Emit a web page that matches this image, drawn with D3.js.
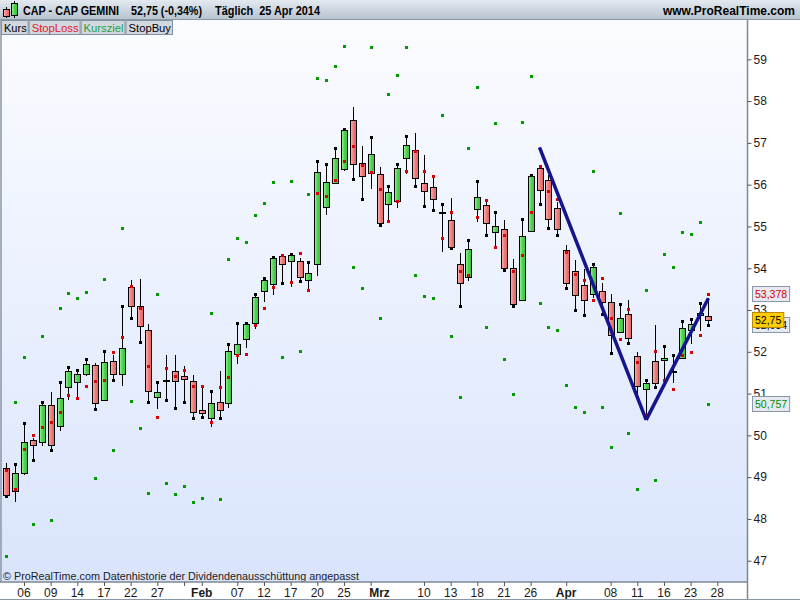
<!DOCTYPE html>
<html>
<head>
<meta charset="utf-8">
<script src="https://cdn.jsdelivr.net/npm/d3@7"></script>
<style>
  body { margin: 0; background: #fff; }
  svg { display: block; font-family: "Liberation Sans", Arial, sans-serif; }
</style>
</head>
<body>
<div id="chart"></div>
<script>
const width = 800,
      height = 600;

// trading days Jan 2 - Apr 25 2014
const dates = [
  "02.01","03.01","06.01","07.01","08.01","09.01","10.01","13.01","14.01","15.01","16.01","17.01","20.01","21.01","22.01","23.01","24.01","27.01","28.01","29.01","30.01","31.01",
  "03.02","04.02","05.02","06.02","07.02","10.02","11.02","12.02","13.02","14.02","17.02","18.02","19.02","20.02","21.02","24.02","25.02","26.02","27.02","28.02",
  "03.03","04.03","05.03","06.03","07.03","10.03","11.03","12.03","13.03","14.03","17.03","18.03","19.03","20.03","21.03","24.03","25.03","26.03","27.03","28.03","31.03",
  "01.04","02.04","03.04","04.04","07.04","08.04","09.04","10.04","11.04","14.04","15.04","16.04","17.04","22.04","23.04","24.04","25.04"
];

const open = [49.23,48.65,49.08,49.88,49.85,50.73,50.23,51.14,51.26,51.47,51.68,50.85,51.77,51.45,53.54,53.09,52.51,50.92,51.32,51.53,
  51.41,51.29,50.60,50.42,50.81,50.78,51.95,52.31,52.68,53.46,53.61,54.29,54.17,54.17,53.72,54.11,55.47,56.06,56.36,57.54,
  56.51,56.27,56.25,55.53,55.62,56.62,56.82,56.03,55.94,55.33,55.15,54.09,53.78,55.42,55.51,54.85,54.93,54.00,53.22,54.88,
  56.41,56.10,55.43,54.43,53.93,53.59,53.38,53.45,53.18,52.47,52.90,51.89,51.10,51.78,51.80,51.52,51.84,52.51,52.87,52.85];
const high = [49.34,49.31,50.29,49.94,50.81,51.04,51.27,51.63,51.56,51.82,51.72,52.01,51.92,53.09,53.72,53.74,52.66,51.27,51.92,51.92,
  51.66,51.44,51.18,51.05,51.54,52.18,52.70,52.70,53.38,53.77,54.27,54.31,54.34,54.24,54.14,56.56,56.49,56.87,57.33,57.86,
  56.92,57.13,56.42,55.96,56.49,57.16,57.23,56.71,56.18,55.53,55.67,54.36,54.67,56.08,55.61,55.34,55.15,54.22,55.19,56.23,
  56.47,56.23,55.58,54.55,54.20,53.98,54.09,53.65,53.38,53.14,53.23,51.99,51.32,52.64,52.15,51.92,52.73,52.78,53.16,53.29];
const low = [48.56,48.41,49.05,49.40,49.75,49.64,50.11,50.85,50.92,51.43,50.62,50.83,51.32,51.19,52.80,52.23,50.81,50.64,50.84,50.65,
  50.79,50.41,50.43,50.21,50.41,50.66,51.71,52.10,52.55,53.20,53.37,53.64,53.56,53.69,53.50,53.82,55.28,56.04,56.33,56.13,
  55.65,55.90,55.03,55.13,55.45,56.25,55.96,55.48,55.39,54.39,54.49,53.09,53.70,55.11,54.79,54.51,53.96,53.10,53.21,54.88,
  55.53,54.96,54.79,53.52,52.99,52.87,53.29,52.90,51.96,52.45,52.20,50.92,50.44,51.15,51.32,51.25,51.82,52.18,52.50,52.63];
const close = [48.58,49.09,49.83,49.75,50.73,49.78,50.89,51.53,51.46,51.70,50.76,51.75,51.47,52.08,53.08,52.60,51.04,51.03,51.31,51.29,
  51.34,50.55,50.54,50.77,50.61,52.03,52.18,52.66,53.30,53.73,54.24,54.09,54.31,53.78,53.88,56.30,56.06,56.65,57.30,56.49,
  56.20,56.73,55.07,55.82,56.41,56.94,56.14,55.83,55.66,55.32,54.51,53.63,54.45,55.70,55.09,55.00,53.99,53.14,54.76,56.20,
  55.88,55.17,54.93,53.64,53.35,53.23,54.02,53.18,52.39,52.80,52.32,51.17,51.25,51.25,51.84,51.52,52.56,52.66,52.92,52.75];

// indicator series
const stopLoss = [49.16,48.71,49.67,50.00,50.19,50.31,50.55,50.96,50.89,51.17,51.29,51.32,51.99,52.35,53.57,53.04,51.65,50.45,51.60,51.41,
  51.56,51.17,51.17,50.31,51.15,51.39,51.92,51.94,52.63,53.04,53.54,54.31,53.66,54.36,53.49,55.79,55.72,56.10,56.56,56.92,
  56.46,56.30,55.89,55.12,55.62,56.33,56.80,56.32,56.20,54.72,55.34,53.93,53.83,55.22,55.63,54.50,54.79,53.93,54.31,55.34,
  56.44,55.86,55.65,54.40,53.85,53.73,53.23,53.76,52.82,52.30,53.02,51.75,50.49,52.02,51.32,51.10,51.92,51.99,52.39,53.378];
const kursziel = [47.11,50.80,51.87,47.88,52.38,47.97,53.05,53.41,53.29,53.43,48.98,53.74,49.65,54.96,50.82,50.18,48.62,53.38,48.86,48.60,
  48.79,48.40,48.50,52.94,48.48,54.21,54.72,54.62,55.27,55.55,56.06,51.87,56.08,52.01,55.77,58.55,58.50,58.83,59.31,54.02,
  53.52,59.29,52.80,58.16,58.62,59.29,53.83,53.33,53.28,57.66,52.37,50.91,56.87,58.33,52.59,57.47,51.82,50.98,57.49,58.59,
  53.16,52.59,52.51,51.20,50.67,50.57,56.32,50.69,49.71,55.31,50.05,48.71,53.47,48.92,54.33,54.02,54.86,54.81,55.10,50.757];
const stopBuy = [48.56,49.31,50.29,49.40,50.81,49.64,51.27,51.63,51.56,51.82,50.62,52.01,51.32,53.09,52.80,52.23,50.81,51.27,50.84,50.65,
  50.79,50.41,50.43,51.05,50.41,52.18,52.70,52.70,53.38,53.77,54.27,53.64,54.34,53.69,54.14,56.56,56.49,56.87,57.33,56.13,
  55.65,57.13,55.03,55.96,56.49,57.16,55.96,55.48,55.39,55.53,54.49,53.09,54.67,56.08,54.79,55.34,53.96,53.10,55.19,56.23,
  55.53,54.96,54.79,53.52,52.99,52.87,54.09,52.90,51.96,53.14,52.20,50.92,51.32,51.15,52.15,51.92,52.73,52.78,53.16,52.634];

// hand drawn trend arrows (bar index, price)
const trendIdx = [60, 72, 79];
const trendVal = [56.89, 50.37, 53.28];

// axes
const priceTicks = [47, 48, 49, 50, 51, 52, 53, 54, 55, 56, 57, 58, 59];
const tickIdx = [2,5,8,11,14,17,20,22,26,29,32,35,38,41,47,50,53,56,59,63,68,71,74,77,80];
const labelIdx = [2,5,8,11,14,17,22,26,29,32,35,38,42,47,50,53,56,59,63,68,71,74,77,80];
const labelText = ["06","09","14","17","22","27","Feb","07","12","17","20","25","Mrz","10","13","18","21","26","Apr","08","11","16","23","28"];
const monthNames = ["Feb", "Mrz", "Apr"];

const titleParts = ["CAP - CAP GEMINI", "52,75 (-0,34%)", "Täglich  25 Apr 2014"];
const siteName = "www.ProRealTime.com";
const tabNames = ["Kurs", "StopLoss", "Kursziel", "StopBuy"];
const footNote = "© ProRealTime.com Datenhistorie der Dividendenausschüttung angepasst";

const plotRight = 747.5,
      plotTop = 20,
      plotBottom = 582;

const x = d3.scaleLinear().domain([-0.7, 83.4]).range([0, plotRight]);
const y = d3.scaleLinear().domain([46.49, 59.965]).range([plotBottom, 19]);
const px = i => Math.round(x(i)) + 0.5;
const comma = (v, n) => d3.format("." + n + "f")(v).replace(".", ",");

const svg = d3.select("#chart")
  .append("svg")
    .attr("width", width)
    .attr("height", height);

const defs = svg.append("defs");

function grad(id, x2, y2, stops) {
  const g = defs.append("linearGradient").attr("id", id)
    .attr("x1", 0).attr("y1", 0).attr("x2", x2).attr("y2", y2);
  stops.forEach((c, k) => g.append("stop")
    .attr("offset", k / (stops.length - 1)).attr("stop-color", c));
}
grad("bg", 0, 1, ["#fbfcff", "#d9e4fc"]);
grad("head", 0, 1, ["#e3e9ef", "#b6c2ce"]);
grad("up", 1, 0, ["#a4f4a4", "#4ed24e", "#3cc43c"]);
grad("down", 1, 0, ["#fbb8b8", "#ee7c7c", "#e06262"]);

defs.append("clipPath").attr("id", "plotclip")
  .append("rect").attr("x", 0).attr("y", plotTop)
  .attr("width", plotRight).attr("height", plotBottom - plotTop);

// plot background
svg.append("rect")
  .attr("x", 0).attr("y", plotTop)
  .attr("width", plotRight).attr("height", plotBottom - plotTop)
  .attr("fill", "url(#bg)");

svg.append("line")
  .attr("x1", 1).attr("x2", 1).attr("y1", plotTop).attr("y2", height)
  .attr("stroke", "#8a97a4").attr("stroke-width", 1.5);

// candles
const plot = svg.append("g").attr("clip-path", "url(#plotclip)")
  .attr("shape-rendering", "crispEdges");
const idx = d3.range(dates.length);

plot.append("g").selectAll("line")
  .data(idx)
  .join("line")
    .attr("x1", px).attr("x2", px)
    .attr("y1", i => y(high[i])).attr("y2", i => y(low[i]))
    .attr("stroke", "#000");

const bodies = idx.filter(i => Math.abs(y(open[i]) - y(close[i])) >= 1.5);
const dojis = idx.filter(i => Math.abs(y(open[i]) - y(close[i])) < 1.5);

plot.append("g").selectAll("rect")
  .data(bodies)
  .join("rect")
    .attr("x", i => px(i) - 3)
    .attr("width", 6)
    .attr("y", i => Math.round(y(Math.max(open[i], close[i]))) + 0.5)
    .attr("height", i => Math.round(Math.abs(y(open[i]) - y(close[i]))))
    .attr("fill", i => close[i] >= open[i] ? "url(#up)" : "url(#down)")
    .attr("stroke", "#000");

plot.append("g").selectAll("rect")
  .data(dojis)
  .join("rect")
    .attr("x", i => px(i) - 3.5)
    .attr("width", 7)
    .attr("y", i => Math.round(y(close[i])) - 1)
    .attr("height", 2)
    .attr("fill", "#000");

function dots(series, color) {
  plot.append("g").selectAll("rect")
    .data(idx)
    .join("rect")
      .attr("x", i => px(i) - 1.5)
      .attr("y", i => Math.round(y(series[i])) - 1.5)
      .attr("width", 3).attr("height", 3)
      .attr("fill", color);
}
dots(kursziel, "#009a00");
dots(stopLoss, "#d80000");
dots(stopBuy, "#000");

// trend arrows
defs.append("marker")
    .attr("id", "head")
    .attr("viewBox", "0 0 10 10")
    .attr("refX", 9).attr("refY", 5)
    .attr("markerWidth", 14).attr("markerHeight", 12)
    .attr("markerUnits", "userSpaceOnUse")
    .attr("orient", "auto")
  .append("path")
    .attr("d", "M0,0L10,5L0,10L3,5z")
    .attr("fill", "#14148c");

const arrows = svg.append("g").attr("clip-path", "url(#plotclip)");
d3.range(trendIdx.length - 1).forEach(k => {
  arrows.append("line")
    .attr("x1", x(trendIdx[k])).attr("y1", y(trendVal[k]))
    .attr("x2", x(trendIdx[k + 1])).attr("y2", y(trendVal[k + 1]))
    .attr("stroke", "#14148c")
    .attr("stroke-width", 3.5)
    .attr("marker-end", "url(#head)");
});

svg.append("text")
  .attr("x", 3).attr("y", 579.5)
  .attr("font-size", 11.5).attr("fill", "#1c1c1c")
  .attr("textLength", 356).attr("lengthAdjust", "spacingAndGlyphs")
  .text(footNote);

// right axis
svg.append("rect")
  .attr("x", plotRight).attr("y", plotTop)
  .attr("width", width - plotRight).attr("height", height - plotTop)
  .attr("fill", "#fff");
svg.append("rect")
  .attr("x", 0).attr("y", plotBottom)
  .attr("width", width).attr("height", height - plotBottom)
  .attr("fill", "#fff");

const yAxis = svg.append("g")
  .attr("transform", `translate(${plotRight},0)`)
  .call(d3.axisRight(y).tickValues(priceTicks).tickSize(4).tickSizeOuter(0).tickPadding(2)
    .tickFormat(d3.format("d")));
yAxis.select(".domain").attr("stroke", "#7d8995").attr("stroke-width", 1.5)
  .attr("d", `M0,${plotTop}V${height}`);
yAxis.selectAll(".tick line").attr("stroke", "#555");
yAxis.selectAll("text").attr("font-size", 12).attr("fill", "#1a1a1a")
  .attr("font-family", null);

// bottom axis
const xAxis = svg.append("g")
  .attr("transform", `translate(0,${plotBottom})`)
  .call(d3.axisBottom(x).tickValues(tickIdx).tickSize(4).tickSizeOuter(0).tickFormat(""));
xAxis.select(".domain").attr("stroke", "#7d8995").attr("stroke-width", 1.5)
  .attr("d", `M0,0H${plotRight}`);
xAxis.selectAll(".tick line").attr("stroke", "#555");

svg.append("g").selectAll("text")
  .data(labelIdx)
  .join("text")
    .attr("x", i => x(i))
    .attr("y", 597)
    .attr("text-anchor", "middle")
    .attr("font-size", 12)
    .attr("font-weight", (d, k) => monthNames.includes(labelText[k]) ? "bold" : null)
    .attr("fill", "#1a1a1a")
    .text((d, k) => labelText[k]);

svg.append("line")
  .attr("x1", 0).attr("x2", width).attr("y1", height - 0.5).attr("y2", height - 0.5)
  .attr("stroke", "#8a97a4");

// last value boxes
const last = dates.length - 1;
function valueBox(v, txt, fill, stroke, color) {
  const g = svg.append("g").attr("transform", `translate(752,${Math.round(y(v))})`);
  const t = g.append("text")
    .attr("x", 3).attr("y", 4)
    .attr("font-size", 10.5).attr("fill", color)
    .text(txt);
  const w = t.node().getComputedTextLength() + 5;
  g.insert("rect", "text")
    .attr("x", 0.5).attr("y", -7.5)
    .attr("width", w).attr("height", 15)
    .attr("fill", fill).attr("stroke", stroke);
}
valueBox(stopBuy[last], comma(stopBuy[last], 3), "#e6eaf0", "#8a97a4", "#000");
valueBox(stopLoss[last], comma(stopLoss[last], 3), "#e6eaf0", "#8a97a4", "#d00000");
valueBox(kursziel[last], comma(kursziel[last], 3), "#e6eaf0", "#8a97a4", "#008a00");
valueBox(close[last], comma(close[last], 2), "#ffcc00", "#b88a00", "#000");

// header bar
svg.append("rect")
  .attr("x", 0).attr("y", 0).attr("width", width).attr("height", plotTop)
  .attr("fill", "url(#head)");
svg.append("line")
  .attr("x1", 0).attr("x2", width).attr("y1", plotTop - 0.5).attr("y2", plotTop - 0.5)
  .attr("stroke", "#8a97a4");

const icon = svg.append("g").attr("shape-rendering", "crispEdges");
icon.append("line").attr("x1", 6.5).attr("x2", 6.5).attr("y1", 7).attr("y2", 18).attr("stroke", "#000");
icon.append("rect").attr("x", 3.5).attr("y", 9.5).attr("width", 6).attr("height", 7)
  .attr("fill", "url(#down)").attr("stroke", "#000");
icon.append("line").attr("x1", 14.5).attr("x2", 14.5).attr("y1", 1).attr("y2", 18).attr("stroke", "#000");
icon.append("rect").attr("x", 11.5).attr("y", 3.5).attr("width", 6).attr("height", 12)
  .attr("fill", "url(#up)").attr("stroke", "#000");

svg.append("g").selectAll("text")
  .data(titleParts)
  .join("text")
    .attr("x", (d, k) => [23, 131, 215][k])
    .attr("y", 14.5)
    .attr("font-size", 12).attr("font-weight", "bold").attr("fill", "#000")
    .attr("textLength", (d, k) => [96, 71, 105][k])
    .attr("lengthAdjust", "spacingAndGlyphs")
    .style("white-space", "pre")
    .text(d => d);

svg.append("text")
  .attr("x", 795).attr("y", 14.5)
  .attr("text-anchor", "end")
  .attr("font-size", 12).attr("font-weight", "bold").attr("fill", "#000")
  .text(siteName);

// tabs
const tabColors = ["#000", "#e0202a", "#1fa040", "#000"];
let tx = 1.5;
tabNames.forEach((name, k) => {
  const g = svg.append("g");
  const t = g.append("text")
    .attr("x", tx + 2.5).attr("y", 31.5)
    .attr("font-size", 11.5).attr("fill", tabColors[k])
    .text(name);
  const w = t.node().getComputedTextLength() + 4;
  t.attr("textLength", w - 5).attr("lengthAdjust", "spacingAndGlyphs");
  g.insert("rect", "text")
    .attr("x", tx).attr("y", 20.5)
    .attr("width", w - 1).attr("height", 14)
    .attr("fill", "#d3d8de").attr("stroke", "#8190a0");
  tx += w;
});
</script>
</body>
</html>
